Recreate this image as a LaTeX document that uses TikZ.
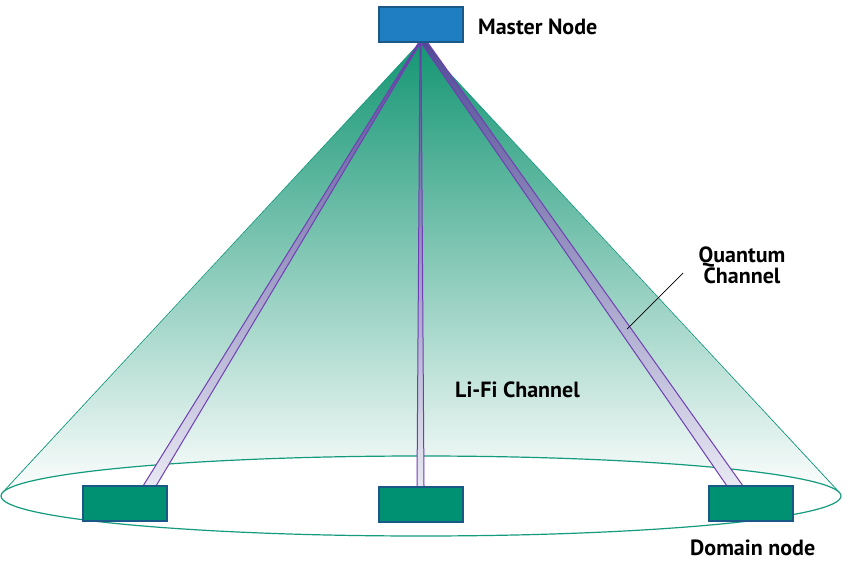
\documentclass[tikz,border=0pt]{standalone}
\usepackage{fontspec}
\setmainfont{PT Sans}
\usetikzlibrary{calc}
\definecolor{masterfill}{RGB}{31,126,193}
\definecolor{boxborder}{RGB}{26,88,136}
\definecolor{domainfill}{RGB}{0,145,114}
\definecolor{conetop}{RGB}{20,150,115}
\definecolor{conemid}{RGB}{110,192,168}
\definecolor{coneline}{RGB}{20,155,125}
\definecolor{bandline}{RGB}{112,62,180}
\definecolor{bandtop}{RGB}{80,74,150}
\definecolor{bandmid}{RGB}{140,138,190}
\definecolor{bandbot}{RGB}{232,232,243}
\tikzset{
  boxnode/.style={draw=boxborder, line width=2pt, minimum width=84pt, minimum height=35pt, inner sep=0pt, outer sep=0pt},
  lbl/.style={font=\bfseries\fontsize{22}{23}\selectfont, inner sep=0pt, anchor=base west},
  bandfill/.style={top color=bandtop, middle color=bandmid, bottom color=bandbot},
  bandedge/.style={draw=bandline, line width=1pt},
}
\begin{document}
\begin{tikzpicture}[x=1pt,y=-1pt]
\useasboundingbox[fill=white] (0,0) rectangle (860,567);
\node[boxnode, fill=masterfill] (m) at (420.5,24.5) {};
\coordinate (apex) at (m.south);
% cone
\shade[top color=conetop, middle color=conemid, bottom color=white]
  (apex) -- (1,496) arc[start angle=180, end angle=360, x radius=420, y radius=40] -- cycle;
\draw[coneline, line width=0.8pt] (apex) -- (3,492);
\draw[coneline, line width=0.8pt] (apex) -- (839,492);
\draw[coneline, line width=1.2pt] (421,496) ellipse [x radius=420, y radius=40];
% domain node positions
\coordinate (dlpos) at (125,503.5);
\coordinate (dmpos) at (420.5,504.5);
\coordinate (drpos) at (750.5,503.5);
% bands
\shade[bandfill] ($(apex)+(-1.5,0)$) -- ($(apex)+(0.5,0)$) -- (156,486) -- (143,486) -- cycle;
\draw[bandedge] ($(apex)+(-1.5,0)$) -- (143,486);
\draw[bandedge] ($(apex)+(0.5,0)$) -- (156,486);
\shade[bandfill] ($(apex)+(-0.5,0)$) -- ($(apex)+(0.5,0)$) -- (424,486) -- (417,486) -- cycle;
\draw[bandedge] ($(apex)+(-0.5,0)$) -- (417,486);
\draw[bandedge] ($(apex)+(0.5,0)$) -- (424,486);
\shade[bandfill] ($(apex)+(0,0)$) -- ($(apex)+(6,-1)$) -- (743,486) -- (727,486) -- cycle;
\draw[bandedge] (apex) -- (727,486);
\draw[bandedge] ($(apex)+(6,-1)$) -- (743,486);
% domain boxes
\node[boxnode, fill=domainfill] (dl) at (dlpos) {};
\node[boxnode, fill=domainfill] (dm) at (dmpos) {};
\node[boxnode, fill=domainfill] (dr) at (drpos) {};
\node[boxnode, fill=masterfill] at (m) {};
% labels
\node[lbl] (tm) at (478,35) {Master Node};
\node[lbl] (tl) at (455,397) {Li-Fi Channel};
\node[lbl] (td) at (690,555) {Domain node};
\node[lbl, anchor=base] (q1) at (742,262) {Quantum};
\node[lbl, anchor=base] (q2) at (742,283) {Channel};
\coordinate (qs) at (683,273);
\coordinate (qe) at (627,329);
\draw[black, line width=0.7pt] (qs) -- (qe);
\end{tikzpicture}
\end{document}
